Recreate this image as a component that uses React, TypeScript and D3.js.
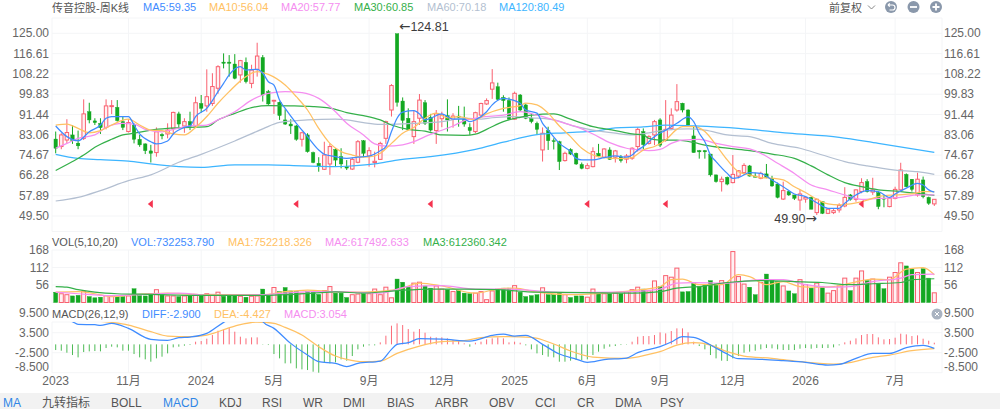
import React from 'react';
import * as d3 from 'd3';

const open = [81.3,78.2,80.9,83,79.6,81.6,92.6,88.8,87.8,86.1,94.7,94.4,88.5,84.4,87.1,81.2,79.3,76.4,75.7,83.2,83.4,85.7,91.7,86.7,88.5,86.7,96,95,96,102.3,113.1,113.1,112.3,107.8,113,104.3,110.1,115,100.9,97.2,96.5,89.2,87.5,86.7,81.2,83,75.7,71.3,68.8,71,77,74,69.9,68.9,71.7,80.6,74.3,71.6,72.9,81.6,93.3,124.81,97,89.9,82.3,89.9,96.3,90.3,84.8,89.7,91,89.5,90.8,89.9,86.1,84.4,91.2,95.8,101.9,102.9,98.5,97.2,89.5,99.5,95.4,89.9,87.8,76.8,84.8,80.6,80.2,72.4,77,75.4,70.8,69.2,69.9,75.4,73.8,76.8,73.8,73.8,73,73.4,78.2,84.4,79.5,83,89.2,80.9,85.7,93.3,96.1,93.3,82.6,76.5,76.5,75.1,66.5,63.7,65.5,63.3,66,67.4,70.2,66,65.1,66.9,65.1,62.7,56.5,59.6,58.2,56.1,56.5,57.2,50.9,55.4,50.6,50.9,52,53.65,58.2,56.4,59.6,63.7,59.4,59.2,56.8,53.4,56.8,60.3,66.7,64.7,58.2,64.4,57.2,54.5];
const high = [84.4,83.7,89.5,87.1,84.8,97.7,96.3,89.9,89.9,97.7,97.4,97.4,90.8,89.5,87.8,83,79.5,78.9,86.1,83.7,87.8,92.6,92.6,89.9,92.6,98.8,99.5,110.1,108.5,111.8,116.7,116,116.4,114,115,112,121.1,116,101.6,97.5,96.8,93.6,89.5,87.1,84.3,83.7,76.1,73.8,80.2,79.5,77.5,77.5,72.6,73.7,80.9,80.9,77.9,76.1,80.2,88.9,104,124.81,98.5,94,93.3,99.9,97.4,91.7,93.3,92.6,97.7,92,95,94.7,87.8,92.6,96.3,98.1,110.2,104.6,99.4,98.5,100.9,99.9,96,92,88.5,86.1,86.4,81.6,80.6,76.1,77.5,75.7,71.6,71.3,77.9,79.3,77.5,77.9,76.8,74.7,75.1,77.9,86.1,85.7,82.9,89.2,89.9,97.4,94,104,96.3,93.6,86.4,76.8,76.8,75.1,66.5,65.8,65.8,74.7,68.5,71.3,70.6,67.4,67.8,71,66.1,63.3,63.7,59.9,58.2,60.3,57.5,57.5,56.8,55.7,52.7,52.7,54.75,61.4,58.6,60.5,65.1,64.7,65.3,59.6,58.2,57.2,61.6,71.5,67.1,64.7,67.4,65.8,57.5,56.4];
const low = [75.4,77.1,79.5,79.3,77.1,80.9,87.8,87.1,83.4,85.3,91.6,88.5,85,84,79.5,78.1,75.1,71.6,74,81.2,81.6,83,85.7,83.9,85,86.1,92.2,92.6,95,100,110.5,107.1,106,104.6,104.3,102.3,107.1,96.8,95.4,91.7,89.2,87.1,83.4,80.6,78.2,75.7,71.3,67.8,68.5,66.5,70,69.2,68.5,68.5,71.3,73.8,69.9,69.6,72.7,79.3,90.6,94.7,85,85,79.3,87.1,87.1,84.4,79.3,86.2,84.4,86,86.4,86.4,83,83.7,90.6,95.4,97.9,97.2,92.6,89.2,89.2,92.6,89.5,87.8,83,72,76.8,77,68.5,72,74.7,70.6,68.8,68.8,69.6,73.8,73.4,72.7,71.6,71.6,71.3,72.7,76.1,77,79,78.8,78,80.2,85,92.6,92.3,86.4,75.7,73.2,73.2,65.8,63.3,59.6,62.2,63,65.1,66.5,65.8,65.5,64.7,65.1,61.6,56.8,56.1,57.8,56.1,51.7,55,52.3,49.9,50.3,50.3,50.3,50.9,53.1,55.85,55.4,58.9,59.2,58.2,52.3,53.1,53.1,56.4,59.6,61.4,59.6,57.5,56.8,54.1,53.65];
const close = [77.5,83,84,80.6,78.5,91.7,89.2,88.1,86,95,95.1,88.9,86.1,88.1,81.2,78.9,76.5,75.4,84.3,82.6,85,92.3,87.5,88.5,86.5,96.3,94,98.8,103,111.2,112.6,112.6,106.4,113.7,105,109.8,115.6,99.5,95.8,97.3,91,87.5,86.7,81.2,83.9,76.1,71.6,69.9,74.7,78.2,72.6,71,69.3,72.9,80.2,75.4,76.5,72.1,79.5,88.5,103.4,96.5,89,85.3,88.5,97.4,87.8,85,91.7,91.2,89.2,90.8,90.3,87.5,84.8,92.2,96,97.2,104.5,97.7,97.2,89.5,100.2,93.3,89.9,88.5,85.3,83.7,80.6,80.4,72,75.4,75.1,71,69.2,70.3,76.1,74.3,77.2,72.9,76.4,72.4,74.3,77.5,85.3,79,82.3,88.5,78.8,85.3,91.2,96.75,93.3,87.1,75.7,76,76,66.5,63.7,64.7,62.7,66.7,68.2,70.4,66,65.5,67.1,65.5,61.9,57.2,60,58.2,56.8,58.6,57.2,52.3,56.4,50.6,52.3,51.7,53.9,57.2,56.4,60.3,63.3,59.6,60.3,53.4,56.5,56.8,60.5,68.5,61.6,60.5,64.7,57.5,54.75,56.4];
const volume = [33,28,25,21,23,36,19,15,17,22,22,20,19,21,44,22,21,28,41,25,21,21,19,21,23,26,22,28,26,33,20,22,22,20,17,20,21,43,22,48,35,48,37,35,30,35,33,26,38,51,30,30,16,25,27,28,28,43,25,49,15,75,65,51,62,65,53,46,53,43,41,35,38,30,28,30,35,9,37,43,46,46,54,33,19,22,25,47,25,25,30,25,16,21,21,17,43,28,28,28,30,28,34,41,49,43,37,69,51,86,81,110,34,35,64,51,57,70,60,70,62,163,83,59,49,25,64,91,73,67,53,37,28,73,57,46,62,50,30,38,53,78,38,78,101,70,75,62,44,81,96,127,117,107,96,108,78,31];
const macdBars = [-1.7,-1.9,-2.5,-3.2,-3.9,-2.3,-2.1,-2,-2.1,-1.1,-0.7,-0.9,-1.9,-1.9,-2.9,-3.9,-4.5,-5.2,-4.2,-3.7,-2.7,-0.9,-0.7,-0.4,-0.2,0.8,1,1.7,2.8,4.1,4.5,4.9,3.8,2.3,1.8,2.1,2.1,-0.1,-0.2,-2.9,-4.2,-5.7,-5.7,-7.2,-7.5,-7.7,-8.2,-8.5,-5.5,-5.7,-5.4,-4.5,-4.9,-3.5,-1.5,-0.7,-0.3,-0.3,0.6,2.6,5.6,6.3,5.8,4.6,3.8,4.6,3.5,2.3,2.1,2.1,1.8,1.3,1,0.3,-0.7,0.5,0.8,1.5,1.8,2.1,1.8,0.6,0.8,0.5,-0.3,-1.5,-2.7,-3.2,-3.7,-3.9,-5.2,-5.2,-4.9,-4.7,-4.7,-4.5,-3.2,-2.2,-1.3,-0.7,-0.5,-0.2,-0.1,0.8,2.3,2.5,2.5,2.8,3.6,3.3,4,4.8,4.8,3.6,0.8,-0.5,-1.5,-3.2,-4.2,-4.9,-5,-4.2,-3.5,-2.5,-2.2,-1.9,-1.5,-1.1,-1.2,-1.5,-1.7,-1.7,-1.7,-1.3,-1.1,-1.3,-1.1,-1.1,-1.1,-0.9,-0.3,0.6,1.1,1.8,2.8,3.1,3.1,2.1,1.5,1.6,2,3.2,3,2.5,2.7,1.7,1.1,0.5];

type Pt = [number, number];
const ma5: Pt[] = [[0,86.7],[2,82.3],[4,80.6],[6,84.3],[8,87.1],[9,89.9],[10,90.6],[13,90.6],[14,87.1],[15,83.4],[17,80.2],[18,79.3],[20,80.5],[21,83.4],[23,86.1],[24,86.7],[25,90.6],[27,94],[28,97.2],[29,100.9],[30,104.3],[31,107.8],[33,111.2],[34,109.8],[36,110.1],[37,108.5],[38,105],[39,103.6],[40,97.4],[41,94],[43,87.8],[45,82.3],[47,76.8],[48,75],[50,74],[52,73.3],[54,73.8],[56,74.3],[58,76.5],[59,78.2],[60,84.4],[61,89.9],[62,92.4],[64,93],[65,91.7],[66,89.2],[67,89.9],[69,91.7],[71,89.5],[73,89.5],[74,88.5],[75,89.2],[77,92.6],[78,95.4],[80,98.1],[81,97.8],[83,96.1],[84,93.3],[86,92],[87,87.8],[88,85],[90,79.5],[92,76.1],[93,73.3],[94,72.7],[96,72.7],[98,73.6],[100,74.3],[102,73.8],[103,74.7],[104,76.8],[105,78.2],[107,82.3],[109,85],[111,87.8],[113,90.5],[114,88.5],[115,83.7],[116,80.2],[117,74.7],[118,72],[120,67.1],[121,65.1],[122,65.4],[124,67.4],[126,67.1],[128,64.4],[130,61.6],[132,58.6],[134,57.5],[136,55],[138,52.7],[140,52.7],[141,54.75],[143,58.2],[145,60],[147,59.6],[149,57.2],[150,58.6],[152,61],[154,63],[155,62.3],[156,60.3],[157,59.35]];
const ma10: Pt[] = [[0,87.1],[2,87.5],[4,85.7],[6,83.9],[8,84.8],[10,87.1],[13,89.5],[15,87.1],[17,85],[19,84.8],[21,83.4],[23,83],[25,86.1],[27,90.6],[29,96.1],[31,100.9],[34,107.1],[36,109.2],[38,108],[41,103.6],[43,98.8],[45,93.3],[47,85.7],[49,79.5],[51,76.1],[53,74.7],[55,73.8],[57,74.3],[58,75.4],[60,79.5],[62,83.7],[64,86.1],[66,89.9],[68,92],[70,90.1],[72,90.6],[75,89.2],[77,91.7],[80,94],[83,95.1],[84,96.1],[86,95.4],[88,92],[90,86.7],[92,82.3],[94,77.5],[96,74.7],[98,73.6],[101,73.2],[103,73.6],[104,75.1],[105,76.8],[107,78.2],[109,80.9],[111,85.3],[112,86.4],[114,86.4],[116,84.4],[118,78.8],[120,72.7],[122,67.8],[124,66.5],[126,65.4],[128,65.1],[130,64.4],[132,61.6],[134,59.2],[136,56.4],[138,54.5],[140,54.1],[142,54.5],[145,56.1],[147,57.5],[150,58.2],[153,58.6],[155,59.6],[157,59.6]];
const ma20: Pt[] = [[0,77.5],[2,79.5],[4,81.6],[7,83],[9,86.1],[12,87.8],[14,87.5],[16,85.3],[19,84.3],[21,85.3],[24,86.7],[27,87.1],[29,89.2],[32,92.6],[35,97.4],[38,100.2],[41,100.9],[44,100.5],[47,98.1],[50,92.6],[52,87.8],[55,83],[57,79.3],[59,78.4],[62,78.9],[64,80.2],[66,82.3],[68,84.1],[71,86.7],[73,88.9],[76,90.3],[80,91.2],[83,92.6],[86,91.2],[89,89.2],[93,86.4],[96,83.4],[99,79.8],[102,77.5],[103,77.1],[106,76.5],[108,77],[110,79.5],[112,80.9],[115,81.2],[118,79.5],[121,78.2],[124,77.2],[126,75.4],[129,71.3],[132,67.1],[135,62.3],[138,60.3],[141,58.2],[144,56.4],[147,56.8],[151,57.2],[154,58.2],[157,58.2]];
const ma30: Pt[] = [[0,68.3],[3,72],[5,74.7],[7,77.9],[10,81.2],[12,83],[14,83.7],[17,85],[20,85.7],[24,86.1],[27,86.4],[29,89.2],[32,91.9],[35,94.3],[38,95.1],[42,95],[46,94.7],[50,93.6],[52,92.2],[55,91],[58,89.2],[60,87.1],[63,85.3],[66,84.6],[69,83],[73,82.8],[75,83.3],[77,85.3],[80,88.5],[83,90.3],[85,91.2],[89,91.7],[92,89.5],[96,86.4],[100,84.8],[103,83.4],[105,83],[106,81.6],[108,80.9],[111,80.9],[114,79.9],[116,78.8],[120,77.5],[124,76.5],[128,75.1],[132,73.3],[135,70.2],[138,66.5],[141,63.3],[144,61.6],[147,60.3],[151,59.6],[157,58]];
const ma60: Pt[] = [[0,55.7],[4,57.2],[8,60],[13,64.1],[17,66.5],[22,71.7],[26,75],[32,80.5],[37,85.5],[40,88.2],[45,89.2],[50,89.5],[52,89.2],[55,88.1],[58,87.4],[61,87.5],[64,87.8],[69,88.5],[73,89.9],[76,89.5],[78,90.1],[82,90.6],[85,90.1],[89,89.2],[93,86.4],[96,85],[100,83.7],[103,83],[106,83.9],[109,85],[113,85.5],[116,85],[120,83],[124,82.3],[128,79.5],[133,77.5],[137,74.7],[141,72],[145,70.2],[150,68.5],[154,67.8],[157,66.7]];
const ma120: Pt[] = [[0,75],[4,73.3],[8,72.8],[13,72.2],[17,71],[22,69.9],[26,69.6],[32,70.6],[38,70.6],[44,70.2],[50,69.9],[53,70.2],[57,71],[61,72.6],[67,74],[75,77],[80,80],[86,83.1],[91,83.9],[97,84.8],[100,85.9],[105,86.3],[109,87.1],[114,86.7],[122,85.7],[131,83.7],[140,82],[147,79.5],[157,75.8]];

const volMa1: Pt[] = [[0,33],[4,35],[7,28],[10,19],[14,25],[20,30],[26,25],[37,25],[41,35],[45,40],[50,34],[55,33],[61,41],[65,62],[69,53],[75,30],[79,43],[82,46],[86,33],[92,25],[98,30],[103,38],[108,51],[110,73],[112,75],[115,57],[119,57],[122,89],[124,83],[127,57],[130,67],[133,51],[136,49],[139,51],[142,62],[146,75],[149,73],[152,107],[155,112],[157,89]];
const volMa2: Pt[] = [[0,33],[4,28],[10,22],[17,27],[22,30],[27,23],[37,25],[41,30],[46,35],[50,35],[58,30],[63,51],[69,54],[75,43],[81,43],[91,32],[100,33],[108,43],[111,62],[114,64],[120,62],[126,73],[130,73],[134,57],[138,49],[142,51],[146,67],[151,78],[153,89],[157,91]];
const volMa3: Pt[] = [[0,51],[2,49],[4,41],[7,33],[11,28],[17,26],[26,23],[37,23],[46,30],[50,34],[55,30],[61,38],[67,43],[73,43],[79,41],[86,33],[94,32],[103,30],[108,35],[111,46],[115,51],[120,64],[126,70],[132,67],[137,64],[142,57],[146,60],[151,64],[153,73],[157,76]];

const diff: Pt[] = [[0,8.1],[2,7.5],[3,6.8],[4,6],[7,5.9],[8,5.7],[10,6.3],[13,4.8],[17,1.5],[20,1.2],[22,2],[24,2.2],[27,3.3],[30,6.6],[32,8.3],[36,9.3],[37,6.8],[39,4.8],[42,0.3],[45,-3.2],[47,-5.2],[50,-5.7],[52,-6.7],[54,-5.7],[58,-5],[60,-1.5],[61,0],[63,0.5],[65,1.7],[69,1.6],[74,1],[78,2.7],[80,3.1],[82,2.5],[84,2.7],[87,0],[90,-2.9],[93,-4.4],[95,-5.4],[98,-4.6],[102,-4.1],[104,-2.5],[108,-0.7],[110,0.7],[112,2.3],[114,2.1],[117,-0.2],[120,-2.9],[122,-4.3],[125,-4.4],[130,-4.9],[134,-5.4],[138,-6.2],[140,-6],[143,-4.2],[146,-2.7],[149,-2.7],[152,-1],[155,-0.3],[157,-1.2]];
const dea: Pt[] = [[0,7.6],[5,7.2],[10,6.6],[13,5.8],[17,3.8],[20,2.5],[24,2.3],[27,2.8],[32,5.5],[36,6.7],[39,6.3],[41,5.1],[44,2.8],[47,-0.7],[50,-3.5],[52,-4.5],[55,-5.2],[58,-5],[61,-2.7],[65,-0.5],[69,0.8],[73,1.1],[76,2],[80,2.3],[85,2.1],[89,0.1],[92,-2],[96,-3.8],[102,-4.2],[106,-3],[108,-2.2],[111,-0.2],[114,0.5],[117,-0.2],[120,-2.2],[123,-3.5],[128,-4.2],[132,-5],[139,-5.9],[141,-5.7],[146,-3.9],[149,-3.2],[153,-1.9],[157,-1.3]];

const priceTicks = [125, 116.61, 108.22, 99.83, 91.44, 83.06, 74.67, 66.28, 57.89, 49.5];
const volTicks = [168, 112, 56];
const macdTicks = [9.5, 3.5, -2.5, -8.5];
const xTicks: [number, string][] = [[0,'2023'],[13,'11月'],[26,'2024'],[39,'5月'],[56,'9月'],[69,'12月'],[82,'2025'],[95,'6月'],[108,'9月'],[121,'12月'],[134,'2026'],[150,'7月']];
const buyMarks = [17, 43, 67, 95, 109, 144];
const buyLevel = 54.5;
const tabs: [string, number, boolean][] = [['MA',3,true],['九转指标',42,false],['BOLL',111,false],['MACD',163,true],['KDJ',219,false],['RSI',262,false],['WR',303,false],['DMI',343,false],['BIAS',387,false],['ARBR',435,false],['OBV',489,false],['CCI',535,false],['CR',577,false],['DMA',615,false],['PSY',660,false]];
const priceLegend: [string, number, string][] = [['MA5:59.35',143,'#3f8cff'],['MA10:56.04',209,'#ffc163'],['MA20:57.77',281,'#f58ef0'],['MA30:60.85',354,'#35b04a'],['MA60:70.18',427,'#b3bfd1'],['MA120:80.49',499,'#3db5ff']];
const volLegend: [string, number, string][] = [['VOL(5,10,20)',52,'#555'],['VOL:732253.790',131,'#3f8cff'],['MA1:752218.326',228,'#ffc163'],['MA2:617492.633',325,'#f58ef0'],['MA3:612360.342',423,'#35b04a']];
const macdLegend: [string, number, string][] = [['MACD(26,12,9)',52,'#555'],['DIFF:-2.900',142,'#3f8cff'],['DEA:-4.427',214,'#ffc163'],['MACD:3.054',284,'#f58ef0']];

const W = 1000, H = 409;
const RED = '#f9606f', GREEN = '#13a822', GRID = '#f4f5f7';
const LEFT = 52, RIGHT = 942;
const font = '"Liberation Sans", "Noto Sans CJK SC", Arial, sans-serif';

export default function App() {
    const x = d3.scaleBand<number>().domain(d3.range(159)).range([52.9, 942.7]);
    const cx = (i: number) => (x(i) as number) + x.bandwidth() / 2;
    const yPrice = d3.scaleLinear().domain([49.5, 125]).range([216, 33.3]);
    const yVol = d3.scaleLinear().domain([0, 168]).range([302.5, 250]);
    const yMacd = d3.scaleLinear().domain([-8.5, 9.5]).range([372.7, 312.7]);

    const lineOf = (y: d3.ScaleLinear<number, number>) =>
        d3.line<Pt>().x(d => cx(d[0])).y(d => y(d[1])).curve(d3.curveMonotoneX);
    const priceLine = lineOf(yPrice);
    const volLine = lineOf(yVol);
    const macdLine = lineOf(yMacd);

    const bodyW = x.bandwidth() * 0.62;
    const volW = x.bandwidth() * 0.72;
    const LW = 1.25;

    const legend = (items: [string, number, string][], y: number) =>
        items.map(([t, tx, c]) => (
            <text key={t} x={tx} y={y} fontSize={11} fill={c}>{t}</text>
        ));

    return (
        <div>
            <style>{'body{margin:0}'}</style>
            <svg width={W} height={H} viewBox={`0 0 ${W} ${H}`} style={{ display: 'block', fontFamily: font }}>
                <defs>
                    <clipPath id="macd-clip">
                        <rect x={LEFT} y={322} width={RIGHT - LEFT} height={52} />
                    </clipPath>
                </defs>
                <rect width={W} height={H} fill="#fff" />

                {/* grid */}
                <g stroke={GRID} strokeWidth={1}>
                    <line x1={LEFT} x2={RIGHT} y1={18} y2={18} />
                    <line x1={LEFT} x2={RIGHT} y1={231.5} y2={231.5} />
                    <line x1={LEFT} x2={LEFT} y1={18} y2={231.5} />
                    <line x1={RIGHT} x2={RIGHT} y1={18} y2={231.5} />
                    <line x1={LEFT} x2={LEFT} y1={250} y2={303} />
                    <line x1={RIGHT} x2={RIGHT} y1={250} y2={303} />
                    <line x1={LEFT} x2={LEFT} y1={322} y2={373} />
                    <line x1={RIGHT} x2={RIGHT} y1={322} y2={373} />
                    <line x1={LEFT} x2={RIGHT} y1={322} y2={322} />
                    <line x1={LEFT} x2={RIGHT} y1={yVol(0)} y2={yVol(0)} />
                    {priceTicks.map(t => <line key={t} x1={LEFT} x2={RIGHT} y1={yPrice(t)} y2={yPrice(t)} />)}
                    {volTicks.map(t => <line key={t} x1={LEFT} x2={RIGHT} y1={yVol(t)} y2={yVol(t)} />)}
                    {macdTicks.slice(1).map(t => <line key={t} x1={LEFT} x2={RIGHT} y1={yMacd(t)} y2={yMacd(t)} />)}
                    {xTicks.slice(1).map(([i]) => (
                        <g key={i}>
                            <line x1={cx(i)} x2={cx(i)} y1={18} y2={231.5} />
                            <line x1={cx(i)} x2={cx(i)} y1={250} y2={303} />
                            <line x1={cx(i)} x2={cx(i)} y1={322} y2={373} />
                        </g>
                    ))}
                </g>

                {/* candles */}
                {open.map((o, i) => {
                    const up = close[i] >= o;
                    const c = up ? RED : GREEN;
                    const top = yPrice(Math.max(o, close[i]));
                    const h = Math.max(yPrice(Math.min(o, close[i])) - top, 0.8);
                    return (
                        <g key={i}>
                            <line x1={cx(i)} x2={cx(i)} y1={yPrice(high[i])} y2={yPrice(low[i])} stroke={c} strokeWidth={1} />
                            <rect x={cx(i) - bodyW / 2} y={top} width={bodyW} height={h} fill={up ? '#fff1f3' : c} stroke={c} strokeWidth={up ? 1 : 0.4} />
                        </g>
                    );
                })}

                <path d={priceLine(ma120) as string} fill="none" stroke="#3db5ff" strokeWidth={LW} />
                <path d={priceLine(ma60) as string} fill="none" stroke="#b3bfd1" strokeWidth={LW} />
                <path d={priceLine(ma30) as string} fill="none" stroke="#35b04a" strokeWidth={LW} />
                <path d={priceLine(ma20) as string} fill="none" stroke="#f58ef0" strokeWidth={LW} />
                <path d={priceLine(ma10) as string} fill="none" stroke="#ffc163" strokeWidth={LW} />
                <path d={priceLine(ma5) as string} fill="none" stroke="#3f8cff" strokeWidth={LW} />

                {buyMarks.map(i => {
                    const bx = cx(i), by = yPrice(buyLevel);
                    return <path key={i} d={`M${bx - 3},${by}L${bx + 2},${by - 4}L${bx + 2},${by + 4}Z`} fill="#f5334f" />;
                })}

                <text x={cx(61) + 2} y={yPrice(124.81) - 3} fontSize={12.5} fill="#3c3c3c">
                    <tspan fontFamily='"DejaVu Sans"' fontSize={13.5}>←</tspan>124.81
                </text>
                <text x={cx(136)} y={yPrice(49.9) + 8} fontSize={12.5} fill="#3c3c3c" textAnchor="end">
                    49.90<tspan fontFamily='"DejaVu Sans"' fontSize={13.5}>→</tspan>
                </text>

                {/* volume */}
                {volume.map((v, i) => {
                    const up = close[i] >= open[i];
                    const c = up ? RED : GREEN;
                    return <rect key={i} x={cx(i) - volW / 2} y={yVol(v)} width={volW} height={yVol(0) - yVol(v)} fill={up ? '#fff1f3' : c} stroke={c} strokeWidth={up ? 1 : 0.4} />;
                })}
                <path d={volLine(volMa1) as string} fill="none" stroke="#ffc163" strokeWidth={LW} />
                <path d={volLine(volMa2) as string} fill="none" stroke="#f58ef0" strokeWidth={LW} />
                <path d={volLine(volMa3) as string} fill="none" stroke="#35b04a" strokeWidth={LW} />

                {/* macd */}
                {macdBars.map((v, i) => (
                    <line key={i} x1={cx(i)} x2={cx(i)} y1={yMacd(0)} y2={yMacd(v)} stroke={v >= 0 ? '#fb6a78' : '#4dbb55'} strokeWidth={1} />
                ))}
                <g clipPath="url(#macd-clip)">
                    <path d={macdLine(dea) as string} fill="none" stroke="#ffc163" strokeWidth={LW} />
                    <path d={macdLine(diff) as string} fill="none" stroke="#3f8cff" strokeWidth={LW} />
                </g>

                {/* axis labels */}
                <g fontSize={12} fill="#666" dominantBaseline="central">
                    {priceTicks.map(t => (
                        <g key={t}>
                            <text x={49} y={yPrice(t)} textAnchor="end">{t.toFixed(2)}</text>
                            <text x={944} y={yPrice(t)}>{t.toFixed(2)}</text>
                        </g>
                    ))}
                    {volTicks.map(t => (
                        <g key={t}>
                            <text x={49} y={yVol(t)} textAnchor="end">{t}</text>
                            <text x={944} y={yVol(t)}>{t}</text>
                        </g>
                    ))}
                    {macdTicks.map((t, k) => {
                        const ly = yMacd(t) - (k === macdTicks.length - 1 ? 6 : 0);
                        return (
                            <g key={t}>
                                <text x={49} y={ly} textAnchor="end">{t.toFixed(3)}</text>
                                <text x={944} y={ly}>{t.toFixed(3)}</text>
                            </g>
                        );
                    })}
                    {xTicks.map(([i, l]) => (
                        <text key={l + i} x={cx(i)} y={381} textAnchor="middle">{l}</text>
                    ))}
                </g>

                {/* legends */}
                <text x={52} y={11.5} fontSize={11} fill="#555">传音控股-周K线</text>
                {legend(priceLegend, 11)}
                {legend(volLegend, 245.5)}
                {legend(macdLegend, 318)}

                {/* top right controls */}
                <text x={829} y={11.5} fontSize={11} fill="#555">前复权</text>
                <path d="M868,5.5l3.5,3.5l3.5,-3.5" fill="none" stroke="#777" strokeWidth={0.9} />
                <circle cx={891} cy={7} r={6} fill="#8a98ab" />
                <path d="M888,5h4.5a2.5,2.5 0 0 1 0,5h-3M888,5l1.8,-1.6M888,5l1.8,1.6" fill="none" stroke="#fff" strokeWidth={1.2} />
                <circle cx={913.5} cy={7} r={6} fill="#8a98ab" />
                <path d="M910,7h7" stroke="#fff" strokeWidth={1.8} />
                <circle cx={936} cy={7} r={6} fill="#8a98ab" />
                <path d="M932.5,7h7M936,3.5v7" stroke="#fff" strokeWidth={1.8} />

                <circle cx={937} cy={314} r={5.5} fill="#a9b3c1" />
                <path d="M935,312l4,4M939,312l-4,4" stroke="#fff" strokeWidth={1} />

                {/* indicator tabs */}
                <rect x={0} y={393} width={W} height={16} fill="#f2f2f2" />
                {tabs.map(([t, tx, active]) => (
                    <text key={t} x={tx} y={406.6} fontSize={12} fill={active ? '#2f86e6' : '#555'}>{t}</text>
                ))}
            </svg>
        </div>
    );
}
